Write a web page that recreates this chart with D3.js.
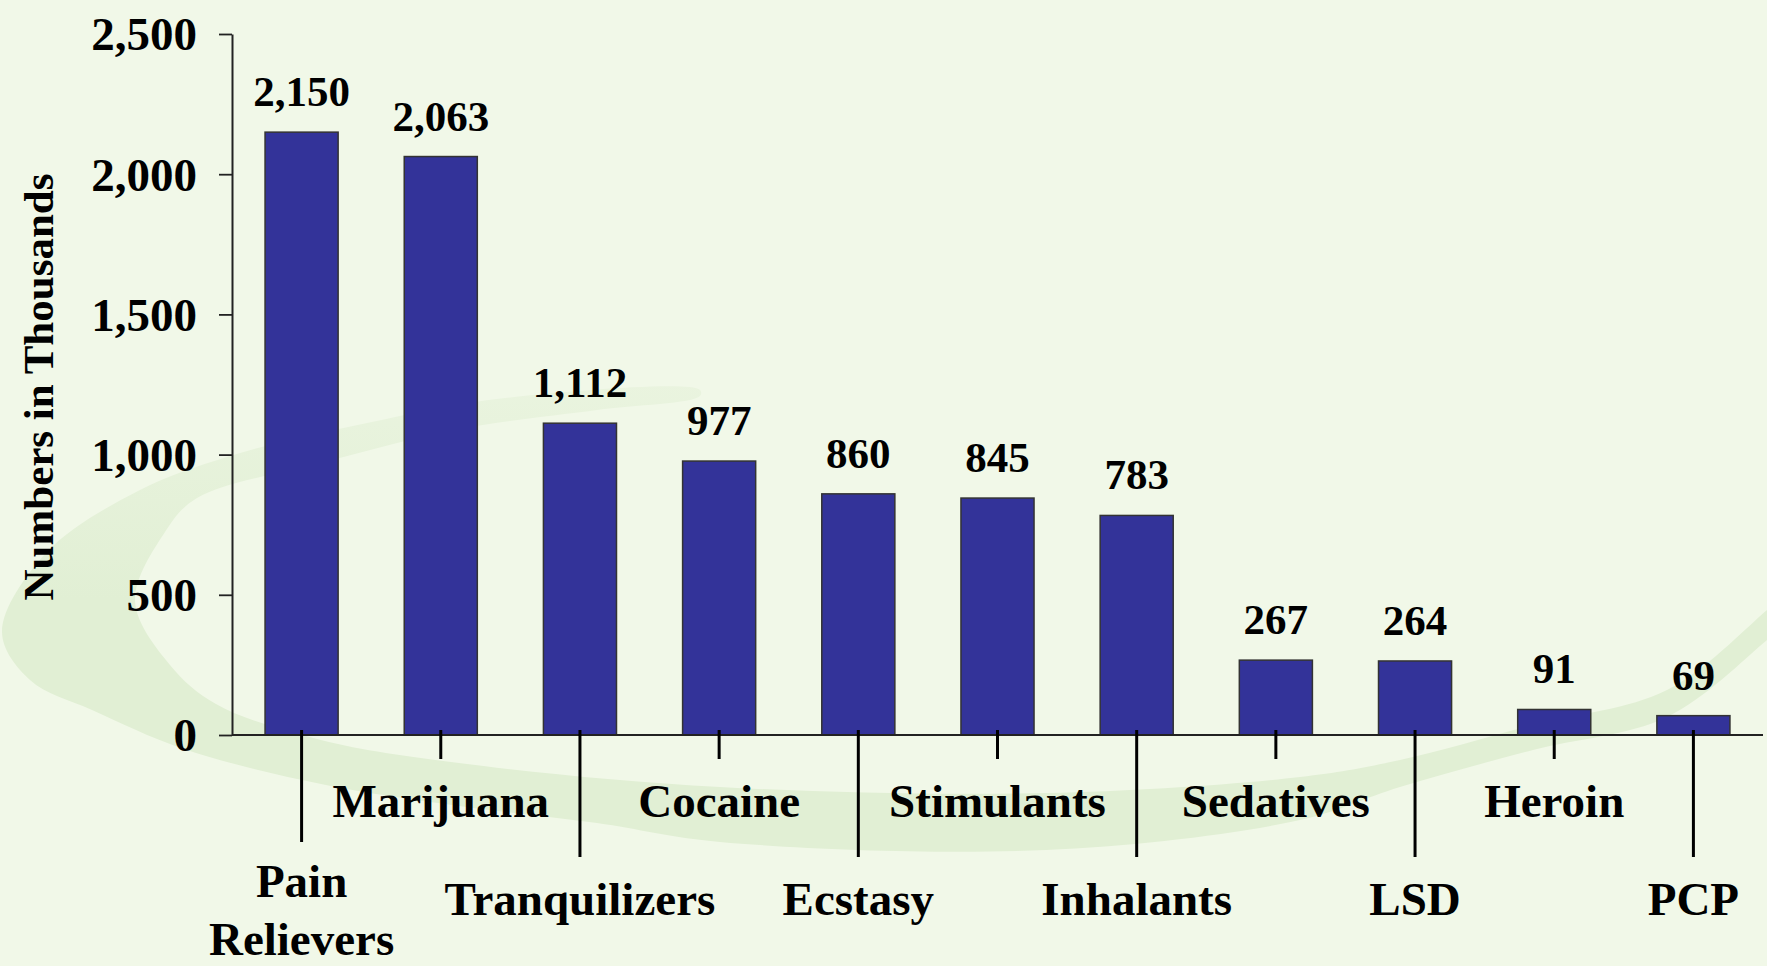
<!DOCTYPE html>
<html>
<head>
<meta charset="utf-8">
<script src="https://cdn.jsdelivr.net/npm/d3@7"></script>
<style>
  html, body { margin: 0; padding: 0; background: #F1F8E8; }
  svg { display: block; }
  text { font-family: "Liberation Serif", "Times New Roman", serif; font-weight: bold; fill: #000; }
</style>
</head>
<body>
<svg id="chart" width="1767" height="966"></svg>
<script>
// ---- data ----
const categories = ["Pain Relievers", "Marijuana", "Tranquilizers", "Cocaine", "Ecstasy", "Stimulants",
                    "Inhalants", "Sedatives", "LSD", "Heroin", "PCP"];
const labelLines = [["Pain", "Relievers"], ["Marijuana"], ["Tranquilizers"], ["Cocaine"], ["Ecstasy"],
                    ["Stimulants"], ["Inhalants"], ["Sedatives"], ["LSD"], ["Heroin"], ["PCP"]];
const values = [2150, 2063, 1112, 977, 860, 845, 783, 267, 264, 91, 69];
const yTicks = [0, 500, 1000, 1500, 2000, 2500];
const yTitle = "Numbers in Thousands";

(function () {
// ---- layout ----
const mLeft = 232, mRight = 1763, mTop = 34, mBase = 735;
const svg = d3.select("#chart");

// background swoosh (decoration)
const defs = svg.append("defs");
const grad = defs.append("linearGradient").attr("id", "sw").attr("gradientUnits", "userSpaceOnUse")
  .attr("x1", 0).attr("y1", 380).attr("x2", 0).attr("y2", 600);
grad.append("stop").attr("offset", "0%").attr("stop-color", "#E1EFD4").attr("stop-opacity", 0.45);
grad.append("stop").attr("offset", "100%").attr("stop-color", "#E1EFD4").attr("stop-opacity", 1);

const outer = [[700,390],[505,398],[367,423],[230,456],[138,491],[46,553],[2,632],[30,680],[92,710],[184,749],
               [321,784],[459,806],[597,823],[720,842],[1046,850],[1300,820],[1400,787],[1533,750],[1667,717],
               [1767,640],[1800,610]];
const inner = [[1800,580],[1767,610],[1667,690],[1533,725],[1400,760],[1300,777],[1046,793],[720,787],
               [459,763],[321,740],[216,704],[170,665],[135,601],[165,532],[197,498],[321,463],[459,429],
               [597,410],[700,396]];
svg.append("path")
  .attr("d", d3.line().curve(d3.curveCatmullRomClosed)(outer.concat(inner)))
  .attr("fill", "url(#sw)");

// scales
const x = d3.scaleBand().domain(categories).range([mLeft, mRight]).paddingInner(0.475).paddingOuter(0.2375);
const y = d3.scaleLinear().domain([0, 2500]).range([mBase, mTop]);

// bars
svg.append("g").selectAll("rect").data(values).join("rect")
  .attr("x", (d, i) => x(categories[i]))
  .attr("y", d => y(d))
  .attr("width", x.bandwidth())
  .attr("height", d => y(0) - y(d))
  .attr("fill", "#333399")
  .attr("stroke", "#333333")
  .attr("stroke-width", 1.5);

// value labels
svg.append("g").selectAll("text").data(values).join("text")
  .attr("x", (d, i) => x(categories[i]) + x.bandwidth() / 2)
  .attr("y", d => y(d) - 26)
  .attr("text-anchor", "middle")
  .style("font-size", "43px")
  .text(d3.format(","));

// y axis
const yAxis = svg.append("g").attr("transform", `translate(${mLeft},0)`)
  .call(d3.axisLeft(y).tickValues(yTicks).tickFormat(d3.format(",")).tickSize(13).tickSizeOuter(0).tickPadding(22));
yAxis.select(".domain").attr("stroke", "#222").attr("stroke-width", 2);
yAxis.selectAll(".tick line").attr("stroke", "#222").attr("stroke-width", 1.8);
yAxis.selectAll(".tick text").style("font-size", "47px").style("font-family", "'Liberation Serif', 'Times New Roman', serif")
  .style("font-weight", "bold").attr("fill", "#000").attr("dy", "0.34em");

// x baseline
svg.append("line").attr("x1", mLeft).attr("x2", mRight).attr("y1", y(0)).attr("y2", y(0))
  .attr("stroke", "#222").attr("stroke-width", 2);

// x ticks with staggered lengths
const tickEnd = i => i === 0 ? 842 : (i % 2 === 0 ? 857 : 759);
svg.append("g").selectAll("line").data(categories).join("line")
  .attr("x1", d => x(d) + x.bandwidth() / 2)
  .attr("x2", d => x(d) + x.bandwidth() / 2)
  .attr("y1", y(0) - 5)
  .attr("y2", (d, i) => tickEnd(i))
  .attr("stroke", "#000").attr("stroke-width", 3);

// x labels
const labelG = svg.append("g");
categories.forEach((c, i) => {
  const lines = labelLines[i];
  const y0 = lines.length > 1 ? 897 : ((i % 2 === 0) ? 915 : 817);
  const cx = x(c) + x.bandwidth() / 2;
  const t = labelG.append("text")
    .attr("x", cx)
    .attr("y", y0)
    .attr("text-anchor", "middle")
    .style("font-size", "47px");
  lines.forEach((ln, k) => {
    t.append("tspan").attr("x", cx).attr("y", y0 + k * 58).text(ln);
  });
});

// y title
svg.append("text")
  .attr("transform", "translate(53,387) rotate(-90)")
  .attr("text-anchor", "middle")
  .style("font-size", "43px")
  .text(yTitle);
})();
</script>
</body>
</html>
